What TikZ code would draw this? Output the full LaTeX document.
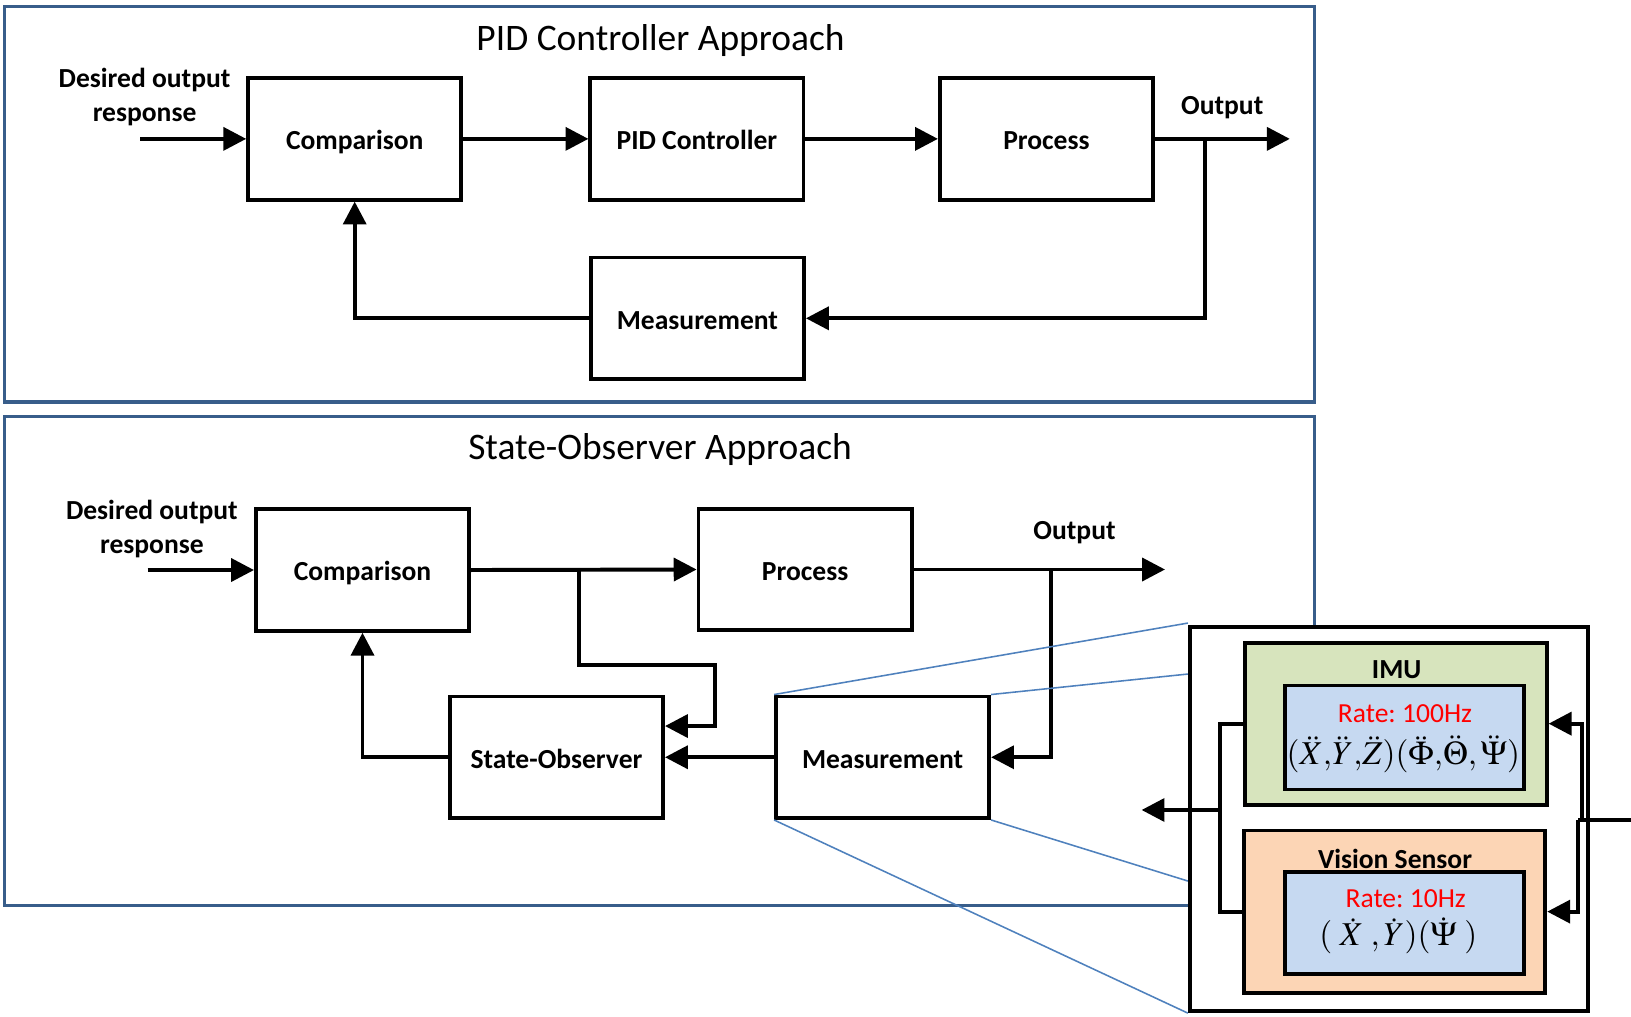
\documentclass[tikz,border=0pt]{standalone}
\usepackage{mathptmx}
\usepackage{fontspec}
\setmainfont{Carlito}
\frenchspacing
\usetikzlibrary{arrows.meta}
\definecolor{framec}{HTML}{385D8A}
\definecolor{zoomc}{HTML}{4F81BD}
\definecolor{imug}{HTML}{D7E4BD}
\definecolor{viso}{HTML}{FCD5B5}
\definecolor{rateb}{HTML}{C6D9F1}
\definecolor{ratered}{HTML}{FF0000}

\begin{document}
\begin{tikzpicture}[x=1pt,y=-1pt,
  lbl/.style={font=\fontsize{26.5pt}{33pt}\selectfont\bfseries, inner sep=0pt, align=center},
  ttl/.style={font=\fontsize{36pt}{40pt}\selectfont, inner sep=0pt},
  block/.style={draw, line width=3.6pt, fill=white, minimum width=205pt, minimum height=117pt,
    inner sep=0pt, text height=23pt, text depth=2pt, font=\fontsize{26.5pt}{32pt}\selectfont\bfseries},
  frame/.style={draw=framec, line width=3pt, inner sep=0pt},
  conn/.style={line width=3.8pt},
  flow/.style={conn, -{Triangle[length=22pt,width=22pt]}},
  zoomline/.style={draw=zoomc, line width=1.5pt},
  sensor/.style={draw, line width=3.8pt, minimum width=290pt, minimum height=156pt, inner sep=0pt},
  reading/.style={draw, line width=3.8pt, fill=rateb, minimum width=230pt, inner sep=0pt},
  rate/.style={font=\fontsize{26.5pt}{32pt}\selectfont, text=ratered, inner sep=0pt},
  formula/.style={font=\fontsize{32pt}{34pt}\selectfont, inner sep=0pt},
]
\useasboundingbox (0,0) rectangle (1568,976.8);

% ---------- PID controller loop ----------
\node[frame, minimum width=1259pt, minimum height=380pt] (frameA) at (634,196.5) {};
\node[ttl] (titleA) at (635,39) {PID Controller Approach};
\node[block] (cmpA) at (341,133.5) {Comparison};
\node[block] (pid) at (670,133.5) {PID Controller};
\node[block] (procA) at (1006,133.5) {Process};
\node[block] (measA) at (670.5,306) {Measurement};
\node[lbl] (desA) at (139,93.5) {Desired output\\response};
\node[lbl] (outA) at (1175,103.5) {Output};
\coordinate (inA) at (135,133.5);
\coordinate (endA) at (1240,133.5);
\coordinate (tapA) at (1158,133.5);

\draw[flow] (inA) -- (cmpA.west);
\draw[flow] (cmpA.east) -- (pid.west);
\draw[flow] (pid.east) -- (procA.west);
\draw[flow] (procA.east) -- (endA);
\draw[flow] (tapA) |- (measA.east);
\draw[flow] (measA.west) -| (cmpA.south);

% ---------- state-observer loop ----------
\node[frame, minimum width=1259pt, minimum height=470pt] (frameB) at (634,635.5) {};
\node[ttl] (titleB) at (634.5,432.5) {State-Observer Approach};
\node[block] (cmpB) at (348.5,548) {Comparison};
\node[block] (procB) at (774,547.5) {Process};
\node[block] (obs) at (535,728) {State-Observer};
\node[block] (measB) at (848.5,728) {Measurement};
\node[lbl] (desB) at (146,508.5) {Desired output\\response};
\node[lbl] (outB) at (1033,512.5) {Output};
\coordinate (inB) at (142,548);
\coordinate (endB) at (1120,547.5);
\coordinate (tapB) at (557,548);
\coordinate (tapC) at (1010,547.5);

\draw[flow] (inB) -- (cmpB.west);
\draw[flow] (cmpB.east) -- (procB.west);
\draw[flow] (procB.east) -- (endB);
\draw[flow] (tapB) |- (687,639) -- (687,698) -- ([yshift=30pt]obs.east);
\draw[flow] (tapC) |- (measB.east);
\draw[flow] (measB.west) -- (obs.east);
\draw[flow] (obs.west) -| (cmpB.south);

% ---------- magnified measurement unit ----------
\coordinate (zA) at (1142,599);
\coordinate (zB) at (1142,648);
\coordinate (zC) at (1142,847);
\coordinate (zD) at (1142,974);
\draw[zoomline] (measB.north west) -- (zA);
\draw[zoomline] (measB.north east) -- (zB);
\draw[zoomline] (measB.south east) -- (zC);
\draw[zoomline] (measB.south west) -- (zD);

\node[draw, line width=3.8pt, fill=white, minimum width=383pt, minimum height=369pt, inner sep=0pt]
  (panel) at (1335.5,787.5) {};

\node[sensor, fill=imug] (imu) at (1341.9,695.7) {};
\node[reading, minimum height=100pt] (imuin) at (1349.9,709) {};
\node[lbl] (imulbl) at (1342.7,644) {IMU};
\node[rate] (imurate) at (1350.7,686) {Rate: 100Hz};
\node[formula] (imuf) at (1349.1,725)
  {$(\ddot{X}{,}\ddot{Y}{,}\ddot{Z})(\ddot{\Phi}{,}\ddot{\Theta}{,}\,\ddot{\Psi})$};

\node[sensor, fill=viso] (vis) at (1340.6,876.4) {};
\node[reading, minimum height=98pt] (visin) at (1349.9,887.2) {};
\node[lbl] (vislbl) at (1341.1,825.5) {Vision Sensor};
\node[rate] (visrate) at (1351.4,864) {Rate: 10Hz};
\node[formula] (visf) at (1344.3,899.5)
  {$(\;\dot{X}\;,\dot{Y})(\dot{\Psi}\;)$};

% sensor buses
\coordinate (busL) at (1172.8,778.7);
\coordinate (busOut) at (1097.5,778.7);
\coordinate (busIn) at (1568,788.3);
\coordinate (busRa) at (1520.5,788.3);
\coordinate (busRb) at (1516.7,788.3);
\draw[conn] (imu.west) -| (busL) |- (vis.west);
\draw[flow] (busL) -- (busOut);
\draw[conn] (busIn) -- (busRb);
\draw[flow] (busRa) |- (imu.east);
\draw[flow] (busRb) |- (vis.east);

\end{tikzpicture}
\end{document}
